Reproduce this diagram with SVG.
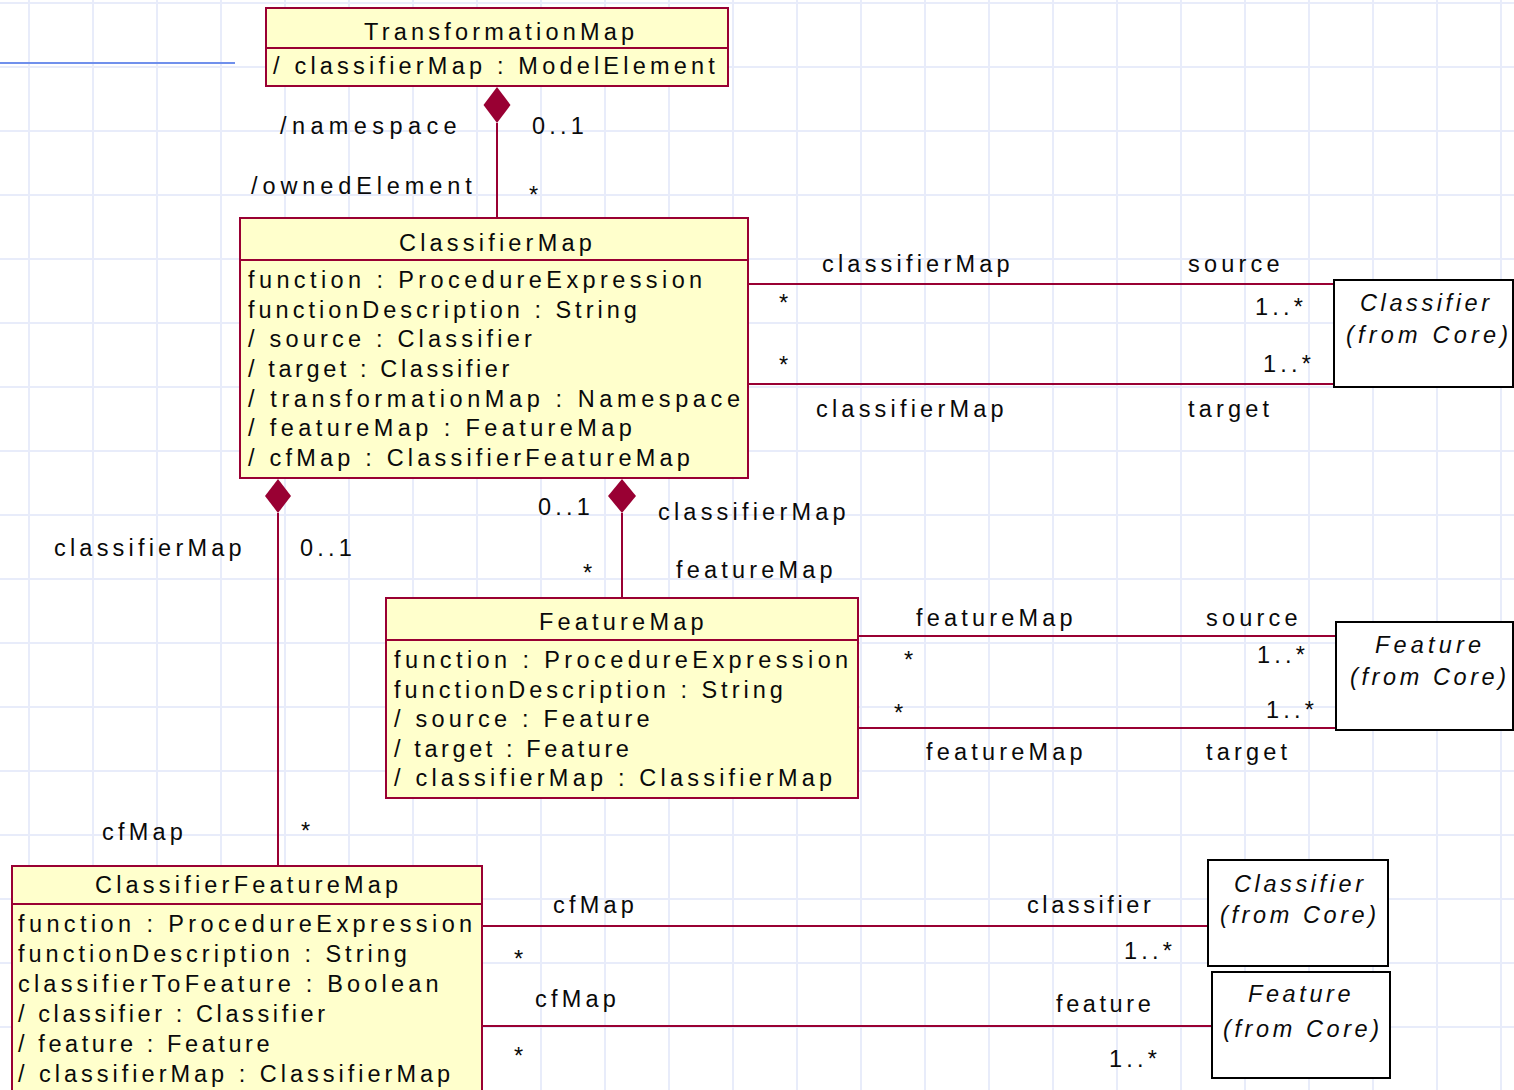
<svg xmlns="http://www.w3.org/2000/svg" width="1514" height="1090" viewBox="0 0 1514 1090">
<defs>
<pattern id="gridp" patternUnits="userSpaceOnUse" x="28" y="2" width="64" height="64">
<rect x="0" y="0" width="2" height="64" fill="#e8ecfa"/>
<rect x="0" y="0" width="64" height="2" fill="#e8ecfa"/>
</pattern>
</defs>
<style>
.cls{fill:#ffffcc;stroke:#990033;stroke-width:2}
.sep{stroke:#990033;stroke-width:2}
.ext{fill:#ffffff;stroke:#000000;stroke-width:2}
.conn{stroke:#990033;stroke-width:2;fill:none}
.dia{fill:#990033;stroke:none}
text{font-family:"Liberation Sans",Arial,Helvetica,sans-serif;font-size:23.5px;letter-spacing:4.2px;fill:#0a0a0a}
.it{font-style:italic}
.tight{letter-spacing:3.6px}
.wide{letter-spacing:5.4px}
.l1{letter-spacing:4.4px}
.l2{letter-spacing:4.0px}
</style>
<rect x="0" y="0" width="1514" height="1090" fill="#ffffff"/>
<rect x="0" y="0" width="1514" height="1090" fill="url(#gridp)"/>
<line x1="0" y1="63" x2="235" y2="63" stroke="#7090ec" stroke-width="2"/>

<g id="connectors">
<path class="conn" d="M497 123V218"/>
<polygon class="dia" points="497,87 510.5,105 497,123 483.5,105"/>
<path class="conn" d="M278 513V866"/>
<polygon class="dia" points="278,479 291,496 278,513 265,496"/>
<path class="conn" d="M622 513V598"/>
<polygon class="dia" points="622,479 636,496 622,513 608,496"/>
<path class="conn" d="M748 284H1334M748 384H1334"/>
<path class="conn" d="M858 636H1336M858 728H1336"/>
<path class="conn" d="M482 926H1208M482 1026H1212"/>
<text class="wide" x="280" y="134">/namespace</text>
<text x="532" y="134">0..1</text>
<text style="letter-spacing:4.9px" x="251" y="194">/ownedElement</text>
<text x="529" y="203">*</text>
<text x="822" y="272">classifierMap</text>
<text x="1188" y="272">source</text>
<text x="779" y="311">*</text>
<text x="1255" y="315">1..*</text>
<text x="779" y="373">*</text>
<text x="1263" y="372">1..*</text>
<text x="816" y="417">classifierMap</text>
<text x="1188" y="417">target</text>
<text x="538" y="515">0..1</text>
<text x="658" y="520">classifierMap</text>
<text x="583" y="581">*</text>
<text x="676" y="578">featureMap</text>
<text x="54" y="556">classifierMap</text>
<text x="300" y="556">0..1</text>
<text x="102" y="840">cfMap</text>
<text x="301" y="839">*</text>
<text x="916" y="626">featureMap</text>
<text x="1206" y="626">source</text>
<text x="904" y="668">*</text>
<text x="1257" y="663">1..*</text>
<text x="894" y="721">*</text>
<text x="1266" y="718">1..*</text>
<text x="926" y="760">featureMap</text>
<text x="1206" y="760">target</text>
<text x="553" y="913">cfMap</text>
<text class="tight" x="1027" y="913">classifier</text>
<text x="514" y="967">*</text>
<text x="1124" y="959">1..*</text>
<text x="535" y="1007">cfMap</text>
<text class="tight" x="1056" y="1012">feature</text>
<text x="514" y="1064">*</text>
<text x="1109" y="1067">1..*</text>
</g>

<g id="TransformationMap">
<rect class="cls" x="266" y="8" width="462" height="78"/>
<line class="sep" x1="266" y1="48" x2="728" y2="48"/>
<text x="364" y="40">TransformationMap</text>
<text x="273" y="74">/ classifierMap : ModelElement</text>
</g>

<g id="ClassifierMap">
<rect class="cls" x="240" y="218" width="508" height="260"/>
<line class="sep" x1="240" y1="260" x2="748" y2="260"/>
<text x="399" y="251">ClassifierMap</text>
<text class="l1" x="248" y="288">function : ProcedureExpression</text>
<text class="l2" x="248" y="318">functionDescription : String</text>
<text x="248" y="347">/ source : Classifier</text>
<text class="tight" x="248" y="377">/ target : Classifier</text>
<text style="letter-spacing:4.6px" x="248" y="407">/ transformationMap : Namespace</text>
<text class="l1" x="248" y="436">/ featureMap : FeatureMap</text>
<text x="248" y="466">/ cfMap : ClassifierFeatureMap</text>
</g>

<g id="FeatureMap">
<rect class="cls" x="386" y="598" width="472" height="200"/>
<line class="sep" x1="386" y1="640" x2="858" y2="640"/>
<text x="539" y="630">FeatureMap</text>
<text class="l1" x="394" y="668">function : ProcedureExpression</text>
<text class="l2" x="394" y="698">functionDescription : String</text>
<text x="394" y="727">/ source : Feature</text>
<text class="tight" x="394" y="757">/ target : Feature</text>
<text x="394" y="786">/ classifierMap : ClassifierMap</text>
</g>

<g id="ClassifierFeatureMap">
<rect class="cls" x="12" y="866" width="470" height="232"/>
<line class="sep" x1="12" y1="904" x2="482" y2="904"/>
<text x="95" y="893">ClassifierFeatureMap</text>
<text class="l1" x="18" y="932">function : ProcedureExpression</text>
<text class="l2" x="18" y="962">functionDescription : String</text>
<text x="18" y="992">classifierToFeature : Boolean</text>
<text class="tight" x="18" y="1022">/ classifier : Classifier</text>
<text class="tight" x="18" y="1052">/ feature : Feature</text>
<text class="l2" x="18" y="1082">/ classifierMap : ClassifierMap</text>
</g>

<g id="Classifier1">
<rect class="ext" x="1334" y="280" width="179" height="107"/>
<text class="it tight" x="1360" y="311">Classifier</text>
<text class="it" x="1346" y="343">(from Core)</text>
</g>

<g id="Feature1">
<rect class="ext" x="1336" y="622" width="177" height="108"/>
<text class="it" x="1375" y="653">Feature</text>
<text class="it tight" x="1350" y="685">(from Core)</text>
</g>

<g id="Classifier2">
<rect class="ext" x="1208" y="860" width="180" height="106"/>
<text class="it tight" x="1234" y="892">Classifier</text>
<text class="it tight" x="1220" y="923">(from Core)</text>
</g>

<g id="Feature2">
<rect class="ext" x="1212" y="972" width="178" height="106"/>
<text class="it tight" x="1248" y="1002">Feature</text>
<text class="it tight" x="1223" y="1037">(from Core)</text>
</g>
</svg>
